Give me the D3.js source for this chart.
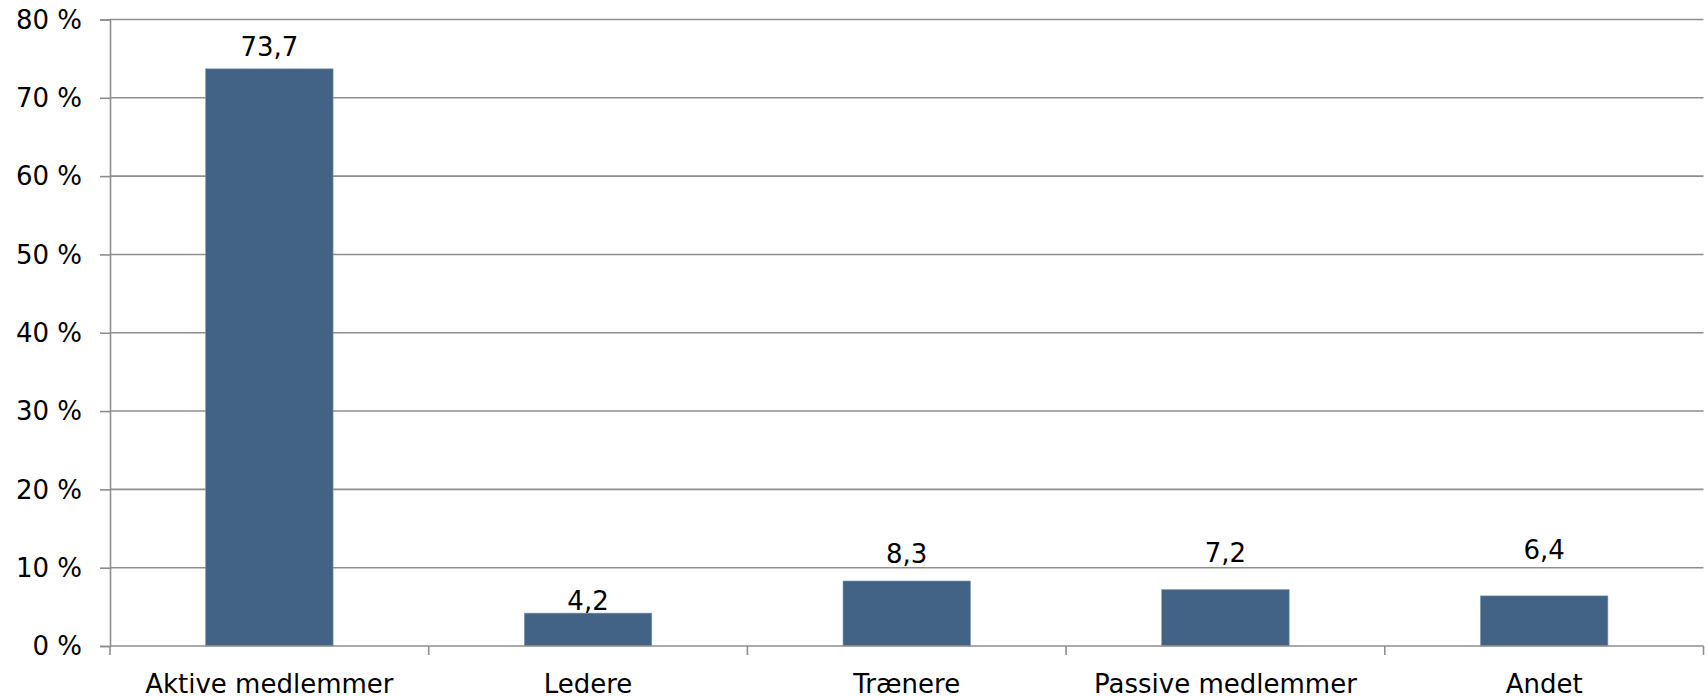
<!DOCTYPE html>
<html>
<head>
<meta charset="utf-8">
<script src="https://cdn.jsdelivr.net/npm/d3@7"></script>
<style>
  html, body { margin: 0; padding: 0; background: #fff; }
  svg { display: block; }
  text { font-family: "DejaVu Sans", Verdana, sans-serif; fill: #000; }
</style>
</head>
<body>
<svg id="chart" width="1708" height="696"></svg>
<script>
// ---- data ----
const categories = ["Aktive medlemmer", "Ledere", "Trænere", "Passive medlemmer", "Andet"];
const values = [73.7, 4.2, 8.3, 7.2, 6.4];
const valueLabels = ["73,7", "4,2", "8,3", "7,2", "6,4"];
const yTicks = [0, 10, 20, 30, 40, 50, 60, 70, 80];
const yTickLabels = ["0 %", "10 %", "20 %", "30 %", "40 %", "50 %", "60 %", "70 %", "80 %"];

(function () {
// ---- layout ----
const svg = d3.select("#chart");
const mLeft = 110, mRight = 1703.5, mTop = 19.5, mBottom = 646;
const fontSize = 26;
const barColor = "#426385";
const gridColor = "#8e8e8e";
// label lift above the bar top (px), as placed in the original
const labelLift = [12.5, 3.3, 18.4, 28, 36.7];

const x = d3.scaleBand().domain(categories).range([mLeft, mRight]).padding(0);
const y = d3.scaleLinear().domain([0, 80]).range([mBottom, mTop]);

// gridlines
svg.append("g").selectAll("line").data(yTicks.filter(d => d > 0)).join("line")
  .attr("x1", mLeft).attr("x2", mRight)
  .attr("y1", d => y(d)).attr("y2", d => y(d))
  .attr("stroke", gridColor).attr("stroke-width", 1.6);

// y axis
const yAxis = d3.axisLeft(y).tickValues(yTicks).tickSize(10).tickPadding(18)
  .tickFormat((d, i) => yTickLabels[i]);
const gy = svg.append("g").attr("transform", `translate(${mLeft},0)`).call(yAxis);
gy.select(".domain").attr("stroke", gridColor).attr("stroke-width", 1.6);
gy.selectAll(".tick line").attr("stroke", gridColor).attr("stroke-width", 1.6);
gy.selectAll(".tick text").attr("font-size", fontSize).attr("font-family", "DejaVu Sans")
  .attr("fill", "#000").attr("dy", "0.34em");

// bars
const bw = x.bandwidth() * 0.4;
svg.append("g").selectAll("rect").data(values).join("rect")
  .attr("x", (d, i) => x(categories[i]) + x.bandwidth() / 2 - bw / 2)
  .attr("width", bw)
  .attr("y", d => y(d))
  .attr("height", d => mBottom - y(d))
  .attr("fill", barColor)
  .attr("stroke", "#7f9ab3").attr("stroke-width", 0.6);

// x axis baseline and boundary ticks
svg.append("line").attr("x1", mLeft).attr("x2", mRight).attr("y1", mBottom).attr("y2", mBottom)
  .attr("stroke", gridColor).attr("stroke-width", 1.6);
const boundaries = categories.map(c => x(c)).concat([mRight]);
svg.append("g").selectAll("line").data(boundaries).join("line")
  .attr("x1", d => d).attr("x2", d => d)
  .attr("y1", mBottom).attr("y2", mBottom + 9)
  .attr("stroke", gridColor).attr("stroke-width", 1.6);

// category labels
svg.append("g").selectAll("text").data(categories).join("text")
  .attr("x", d => x(d) + x.bandwidth() / 2)
  .attr("y", 692.5)
  .attr("text-anchor", "middle")
  .attr("font-size", fontSize)
  .text(d => d);

// value labels
svg.append("g").selectAll("text").data(values).join("text")
  .attr("x", (d, i) => x(categories[i]) + x.bandwidth() / 2)
  .attr("y", (d, i) => y(d) - labelLift[i])
  .attr("text-anchor", "middle")
  .attr("font-size", fontSize)
  .text((d, i) => valueLabels[i]);
})();
</script>
</body>
</html>
